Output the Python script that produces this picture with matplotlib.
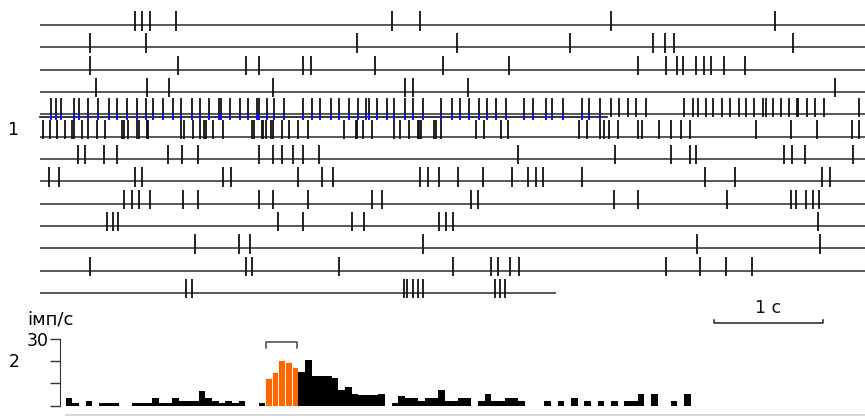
import matplotlib
matplotlib.use("Agg")
import matplotlib.pyplot as plt
import numpy as np

plt.rcParams['font.family'] = ['DejaVu Sans']

# ---------------- data: spike times (s) per trial row ----------------
row01 = [0.88, 0.94, 1.02, 1.26, 3.25, 3.51, 5.27, 6.79]
row02 = [0.46, 0.98, 2.93, 3.85, 4.89, 5.66, 5.77, 5.85, 6.95]
row03 = [0.46, 1.27, 1.90, 2.02, 2.43, 2.50, 3.09, 3.72, 4.33, 5.52, 5.78, 5.88,
         5.94, 6.06, 6.13, 6.20, 6.32, 6.51]
row04 = [0.52, 0.99, 1.19, 2.15, 3.37, 3.44, 3.95, 7.34]
row05 = [0.10, 0.15, 0.19, 0.31, 0.36, 0.44, 0.54, 0.64, 0.71, 0.80, 0.90, 0.98,
         1.04, 1.14, 1.23, 1.30, 1.40, 1.48, 1.56, 1.65, 1.67, 1.75, 1.85, 1.92,
         2.00, 2.02, 2.10, 2.16, 2.25, 2.43, 2.51, 2.59, 2.69, 2.76, 2.85, 2.94,
         3.01, 3.04, 3.11, 3.20, 3.27, 3.37, 3.44, 3.54, 3.70, 3.80, 3.88, 3.96,
         4.05, 4.13, 4.21, 4.30, 4.47, 4.55, 4.67, 4.73, 4.83, 5.00, 5.07, 5.17,
         5.27, 5.35, 5.43, 5.50, 5.60, 5.95, 6.03, 6.08, 6.15, 6.21, 6.30, 6.37,
         6.45, 6.52, 6.59, 6.68, 6.70, 6.77, 6.84, 6.92, 6.99, 7.00, 7.08, 7.16,
         7.24, 7.56]
row06 = [0.03, 0.09, 0.16, 0.23, 0.30, 0.31, 0.39, 0.44, 0.53, 0.60, 0.76, 0.78,
         0.81, 0.90, 0.91, 0.99, 1.00, 1.30, 1.33, 1.41, 1.48, 1.51, 1.53, 1.60,
         1.69, 1.96, 1.98, 2.05, 2.06, 2.09, 2.13, 2.15, 2.23, 2.30, 2.38, 2.47,
         2.81, 2.92, 2.93, 2.98, 3.07, 3.27, 3.32, 3.41, 3.49, 3.50, 3.52, 3.64,
         3.66, 3.70, 4.03, 4.10, 4.26, 4.32, 4.98, 5.05, 5.17, 5.21, 5.25, 5.34,
         5.52, 5.56, 5.72, 5.83, 5.92, 6.00, 6.61, 6.93, 7.17, 7.50, 7.56]
row07 = [0.35, 0.42, 0.59, 0.71, 1.18, 1.31, 1.46, 2.02, 2.15, 2.23, 2.34, 2.43,
         2.58, 4.41, 5.31, 5.83, 6.00, 6.06, 6.87, 6.94, 7.06, 7.51]
row08 = [0.08, 0.18, 0.88, 0.94, 1.69, 1.76, 2.38, 2.60, 2.71, 3.51, 3.58, 3.68,
         3.86, 4.09, 4.36, 4.51, 4.58, 4.64, 5.00, 6.14, 6.42, 7.22, 7.29]
row09 = [0.78, 0.85, 0.91, 1.02, 1.32, 1.46, 2.02, 2.15, 2.47, 3.07, 3.16, 3.98,
         4.04, 5.30, 5.52, 6.34, 6.93, 6.98, 7.07, 7.14, 7.19]
row10 = [0.62, 0.67, 0.72, 2.20, 2.43, 2.88, 2.99, 3.68, 3.75, 3.81, 7.18]
row11 = [1.43, 1.84, 1.94, 3.54, 6.07, 7.20]
row12 = [0.46, 1.90, 1.96, 2.76, 3.81, 4.16, 4.23, 4.34, 4.42, 5.78, 6.09, 6.33, 6.57]
row13 = [1.35, 1.40, 3.36, 3.39, 3.44, 3.49, 3.54, 4.20, 4.25, 4.29]

rows = [row01, row02, row03, row04, row05, row06, row07, row08, row09, row10,
        row11, row12, row13]
row_ends = [7.62] * 12 + [4.76]          # trace duration (s)
blue_end = 5.24                          # length of the overlaid blue trace (s)
scale_len = 1.0                          # scale bar, s

# ---------------- histogram (imp/s), bin 0.0614 s ----------------
bin_w = 0.0614
rate = [3.3, 1.3, 0, 2.3, 0, 1.3, 1.3, 1.3, 0, 0,
        1.3, 1.3, 1.3, 3.3, 1.3, 1.3, 3.3, 2.3, 2.3, 2.3,
        6.5, 3.3, 2.3, 1.3, 2.3, 1.3, 2.3, 0, 0, 1.3,
        12.6, 15.0, 20.5, 19.5, 17.5, 15.0, 20.5, 13.2, 13.2, 13.2,
        12.6, 7.0, 8.4, 5.2, 4.6, 4.6, 4.6, 5.2, 0, 1.3,
        4.5, 3.3, 3.3, 2.3, 3.3, 3.3, 7.0, 2.3, 2.3, 3.3,
        3.3, 0, 2.3, 5.2, 2.3, 2.3, 3.3, 3.3, 2.3, 0,
        0, 0, 2.3, 0, 2.3, 0, 3.3, 0, 2.3, 0,
        2.3, 0, 2.3, 0, 2.3, 2.3, 5.2, 0, 5.2, 0,
        0, 2.3, 0, 5.2]
highlight = (30, 35)                     # orange bins [start, stop)

# ---------------- figure ----------------
W, H = 865, 416
fig = plt.figure(figsize=(W / 100, H / 100), dpi=100)

def fbox(x0, y0, x1, y1):
    """pixel box (top-left origin) -> figure fraction rect"""
    return [x0 / W, 1 - y1 / H, (x1 - x0) / W, (y1 - y0) / H]

PX_PER_S = 108.3
ROW_PX = 22.33
ROW0_PX = 25.0
FS = 12.5

ax = fig.add_axes(fbox(40, 0, 865, 330))
ax.set_xlim(0, 825 / PX_PER_S)
ax.set_ylim((330 - ROW0_PX) / ROW_PX, -ROW0_PX / ROW_PX)
ax.axis('off')

up = 14 / ROW_PX
down = 5.5 / ROW_PX
for r, (spk, tend) in enumerate(zip(rows, row_ends)):
    ax.plot([0, tend], [r, r], color='#2a2a2a', lw=1.1, solid_capstyle='butt', clip_on=False)
    if r in (4, 5):
        u, d = 16.5 / ROW_PX, 2.5 / ROW_PX
    else:
        u, d = up, down
    ax.vlines(spk, r - u, r + d, color='#111111', lw=1.3, clip_on=False)

# overlaid blue trace on row 5
r5 = 4 + 3 / ROW_PX
ax.plot([0, blue_end], [r5, r5], color='#111111', lw=1.2, clip_on=False)
b = np.array([t for t in row05 if t < blue_end])
ax.vlines(b, r5 - 3.0 / ROW_PX, r5 + 2.5 / ROW_PX, color='#1010ff', lw=1.4, zorder=5)

# scale bar
sb_x0 = (714.3 - 40) / PX_PER_S
sb_y = (323.3 - ROW0_PX) / ROW_PX
tick = 3.5 / ROW_PX
ax.plot([sb_x0, sb_x0, sb_x0 + scale_len, sb_x0 + scale_len],
        [sb_y - tick, sb_y, sb_y, sb_y - tick], color='#222222', lw=1.1, clip_on=False)
ax.text(sb_x0 + scale_len / 2, (313.3 - ROW0_PX) / ROW_PX, '1 с', ha='center',
        va='baseline', fontsize=FS, color='#111111')

# panel labels
fig.text(13 / W, 1 - 130 / H, '1', ha='center', va='center', fontsize=FS)
fig.text(14 / W, 1 - 362 / H, '2', ha='center', va='center', fontsize=FS)
fig.text(27 / W, 1 - 325 / H, 'імп/с', ha='left', va='baseline', fontsize=FS + 0.5)

# ---------------- histogram ----------------
hx = fig.add_axes(fbox(60, 339, 865, 415))
x0 = -(65.7 - 60) / PX_PER_S
hx.set_xlim(x0, x0 + 805 / PX_PER_S)
hx.set_ylim(-4.2, 30)
lefts = np.arange(len(rate)) * bin_w
cols = ['#ff6600' if highlight[0] <= i < highlight[1] else '#000000' for i in range(len(rate))]
ecs = ['white' if highlight[0] <= i < highlight[1] else 'none' for i in range(len(rate))]
hx.bar(lefts, rate, width=bin_w, align='edge', color=cols, edgecolor=ecs, linewidth=0.6)

for s in ('top', 'right'):
    hx.spines[s].set_visible(False)
hx.spines['left'].set_bounds(0, 30)
hx.spines['left'].set_color('#333333')
hx.spines['bottom'].set_bounds(0, x0 + 805 / PX_PER_S)
hx.spines['bottom'].set_color('#d0d0d0')
hx.spines['bottom'].set_linewidth(1.2)
hx.set_xticks([])
hx.set_yticks([0, 10, 20, 30])
hx.set_yticklabels(['', '', '', '30'])
hx.tick_params(axis='y', length=7, width=1, color='#333333', pad=1.5, labelsize=FS)

# bracket over highlighted bins
bx0 = highlight[0] * bin_w + 0.01
bx1 = highlight[1] * bin_w - 0.01
hx.plot([bx0, bx0, bx1, bx1], [26, 28.6, 28.6, 26], color='#444444', lw=1.1, clip_on=False)

fig.savefig('out.png', dpi=100)
